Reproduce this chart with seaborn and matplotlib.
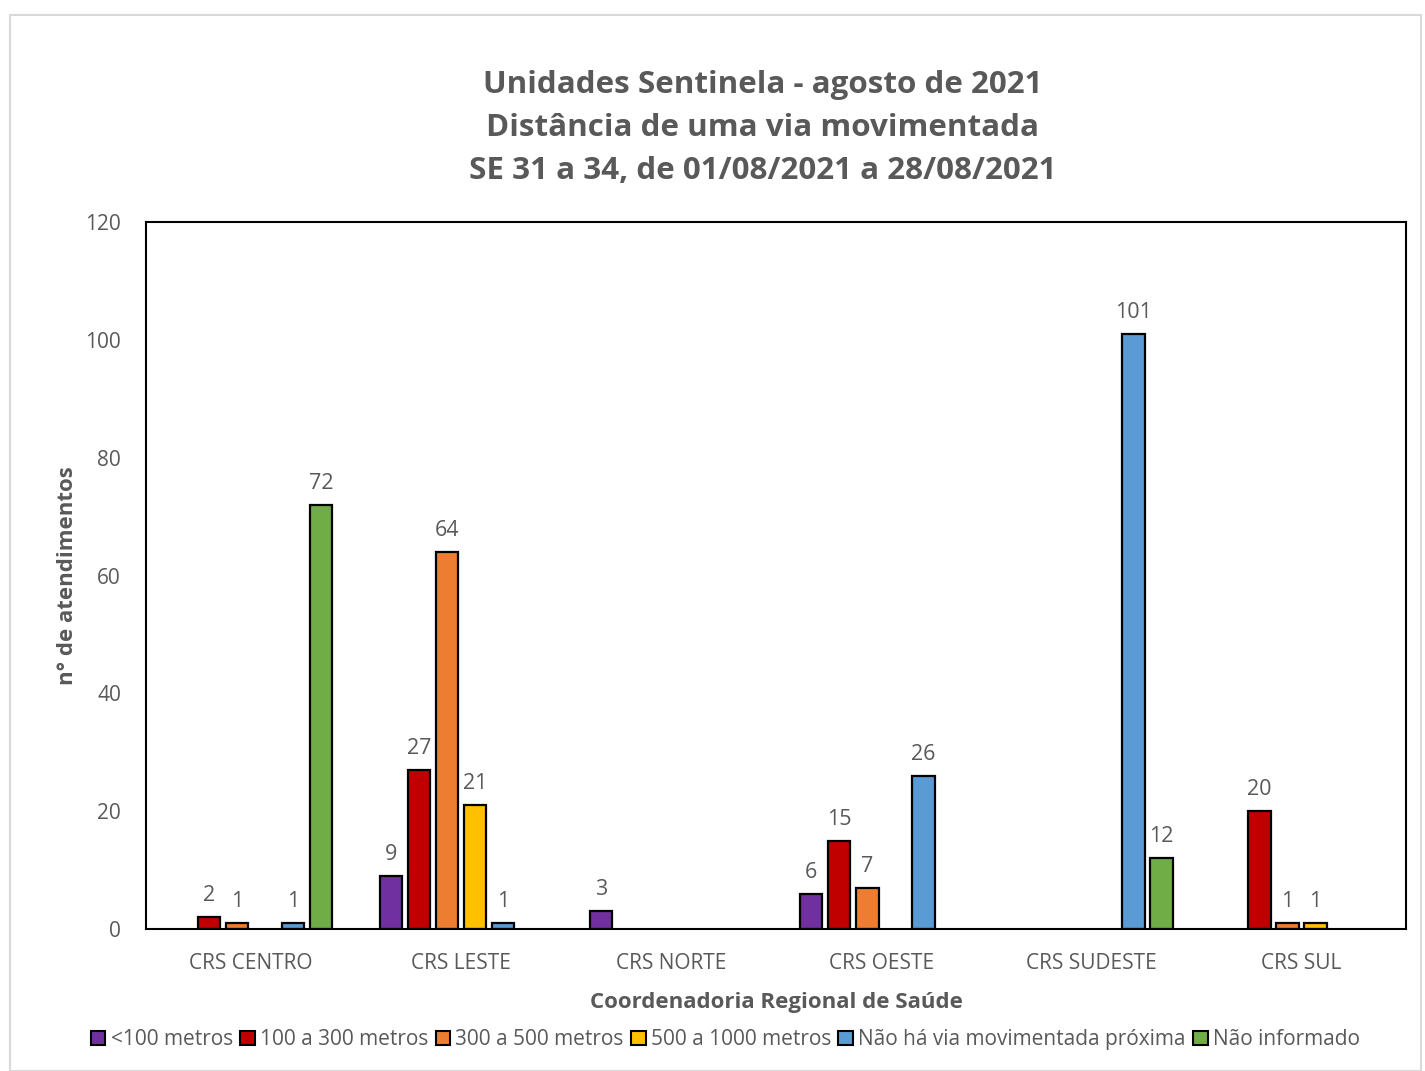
import numpy as np
import pandas as pd
import matplotlib
matplotlib.use("Agg")
import matplotlib.pyplot as plt
import seaborn as sns
from matplotlib.patches import Rectangle

regions = ["CRS CENTRO", "CRS LESTE", "CRS NORTE", "CRS OESTE", "CRS SUDESTE", "CRS SUL"]
series = ["<100 metros", "100 a 300 metros", "300 a 500 metros", "500 a 1000 metros",
          "Não há via movimentada próxima", "Não informado"]
lt100 = [0, 9, 3, 6, 0, 0]
m100_300 = [2, 27, 0, 15, 0, 20]
m300_500 = [1, 64, 0, 7, 0, 1]
m500_1000 = [0, 21, 0, 0, 0, 1]
nao_ha = [1, 1, 0, 26, 101, 0]
nao_inf = [72, 0, 0, 0, 12, 0]
colors = ["#7030A0", "#C00000", "#ED7D31", "#FFC000", "#5B9BD5", "#70AD47"]

values = [lt100, m100_300, m300_500, m500_1000, nao_ha, nao_inf]
rows = []
for s, vals in zip(series, values):
    for r, v in zip(regions, vals):
        if v > 0:
            rows.append({"CRS": r, "Distância": s, "n": v})
df = pd.DataFrame(rows)

sns.set_theme(style="white")
font = ["Open Sans", "DejaVu Sans"]
plt.rcParams["font.family"] = font
gray = "#595959"

fig = plt.figure(figsize=(14.25, 10.71), dpi=100)
ax = fig.add_axes([0.1025, 0.1326, 0.8845, 0.6601])

sns.barplot(data=df, x="CRS", y="n", hue="Distância", order=regions, hue_order=series,
            palette=colors, saturation=1, width=0.8, edgecolor="black", linewidth=1.6, ax=ax,
            legend=True, errorbar=None)

# shrink bars to leave gaps
for p in ax.patches:
    w = p.get_width()
    if w == 0 or np.isnan(w):
        continue
    x = p.get_x()
    nw = w * 0.8
    p.set_x(x + (w - nw) / 2)
    p.set_width(nw)

for c in ax.containers:
    ax.bar_label(c, fmt="%g", padding=8, fontsize=15.5, color=gray)

ax.set_ylim(0, 120)
ax.set_yticks(range(0, 121, 20))
ax.set_xlim(-0.5, 5.5)
ax.tick_params(axis="both", length=0, labelsize=15, colors=gray)
ax.tick_params(axis="x", pad=17)
ax.tick_params(axis="y", pad=18)
for sp in ax.spines.values():
    sp.set_visible(True)
    sp.set_color("black")
    sp.set_linewidth(1.5)

ax.set_xlabel("Coordenadoria Regional de Saúde", fontsize=16, fontweight="bold", color=gray, labelpad=13)
ax.set_ylabel("n° de atendimentos", fontsize=16, fontweight="bold", color=gray, labelpad=5)

fig.text(0.535, 0.8805, "Unidades Sentinela - agosto de 2021\nDistância de uma via movimentada\nSE 31 a 34, de 01/08/2021 a 28/08/2021",
         ha="center", va="center", fontsize=22.6, fontweight="bold", color=gray, linespacing=1.57)

handles, labels = ax.get_legend_handles_labels()
ax.get_legend().remove()
leg = fig.legend(handles, labels, loc="center", bbox_to_anchor=(0.509, 0.029), ncol=6, frameon=False,
                 fontsize=15, handlelength=0.7, handleheight=0.7, handletextpad=0.25,
                 columnspacing=0.35, labelcolor=gray)
for h in leg.legend_handles:
    h.set_edgecolor("black")
    h.set_linewidth(1.5)

fig.patches.append(Rectangle((0.007, 0.0), 0.99, 0.986, transform=fig.transFigure,
                             fill=False, edgecolor="#D9D9D9", linewidth=1.5))

fig.savefig("out.png", dpi=100)
